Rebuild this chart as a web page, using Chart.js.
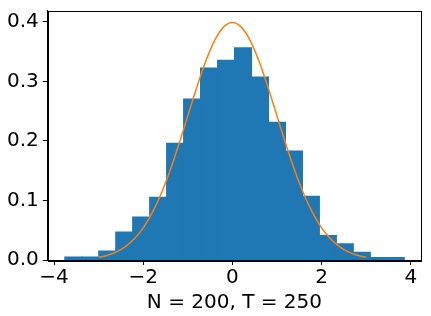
<!DOCTYPE html>
<html>
<head>
<meta charset="utf-8">
<script src="https://cdn.jsdelivr.net/npm/chart.js@4/dist/chart.umd.min.js"></script>
<style>
  html, body { margin: 0; padding: 0; background: #fff; }
  #wrap { width: 431px; height: 316px; }
</style>
</head>
<body>
<div id="wrap"><canvas id="hist"></canvas></div>
<script>
// histogram bins (centres) and densities
const binCenters = [-3.567, -3.186, -2.806, -2.425, -2.045, -1.664, -1.284, -0.903, -0.523, -0.142,
                    0.238, 0.619, 0.999, 1.380, 1.760, 2.141, 2.521, 2.902, 3.282, 3.663];
const density = [0.005, 0.005, 0.015, 0.047, 0.072, 0.105, 0.196, 0.270, 0.322, 0.335,
                 0.356, 0.307, 0.231, 0.183, 0.107, 0.041, 0.027, 0.013, 0.004, 0.004];

// normal curve points
const curveX = [-3.0, -2.8, -2.6, -2.4, -2.2, -2.0, -1.8, -1.6, -1.4, -1.2, -1.0, -0.8, -0.6, -0.4, -0.2, 0.0,
                0.2, 0.4, 0.6, 0.8, 1.0, 1.2, 1.4, 1.6, 1.8, 2.0, 2.2, 2.4, 2.6, 2.8, 3.0];
const curveY = [0.0044, 0.0079, 0.0136, 0.0224, 0.0355, 0.0540, 0.0790, 0.1109, 0.1497, 0.1942, 0.2420, 0.2897, 0.3332, 0.3683, 0.3910, 0.3989,
                0.3910, 0.3683, 0.3332, 0.2897, 0.2420, 0.1942, 0.1497, 0.1109, 0.0790, 0.0540, 0.0355, 0.0224, 0.0136, 0.0079, 0.0044];

const xTicks = [-4, -2, 0, 2, 4];
const yTicks = [0.0, 0.1, 0.2, 0.3, 0.4];
const xLabel = 'N = 200, T = 250';

const font = { family: '"DejaVu Sans", sans-serif', size: 20 };

// matplotlib style box around the plot
const frame = {
    id: 'frame',
    afterDatasetsDraw(chart) {
        const { ctx, chartArea: a } = chart;
        ctx.save();
        ctx.strokeStyle = '#000';
        ctx.lineWidth = 1;
        ctx.strokeRect(Math.round(a.left) + 0.5, Math.round(a.top) + 0.5,
                       Math.round(a.right - a.left), Math.round(a.bottom - a.top));
        ctx.restore();
    }
};

new Chart(document.getElementById('hist'), {
    data: {
        datasets: [
            {
                type: 'line',
                data: curveX.map((x, i) => ({ x: x, y: curveY[i] })),
                borderColor: '#ff7f0e',
                borderWidth: 1.5,
                pointRadius: 0,
                cubicInterpolationMode: 'monotone',
                fill: false
            },
            {
                type: 'bar',
                data: binCenters.map((x, i) => ({ x: x, y: density[i] })),
                backgroundColor: '#1f77b4',
                borderWidth: 0,
                inflateAmount: 0.6,
                barPercentage: 1.0,
                categoryPercentage: 1.0
            }
        ]
    },
    options: {
        responsive: true,
        maintainAspectRatio: false,
        animation: false,
        layout: { padding: { top: 0, right: 10, left: 3, bottom: 1 } },
        plugins: { legend: { display: false }, tooltip: { enabled: false } },
        scales: {
            x: {
                type: 'linear',
                offset: false,
                min: -4.14,
                max: 4.23,
                afterBuildTicks: (axis) => { axis.ticks = xTicks.map(v => ({ value: v })); },
                ticks: {
                    font: font, color: '#000', padding: 1,
                    callback: (v) => String(v).replace('-', '\u2212')
                },
                grid: { offset: false, drawOnChartArea: false, drawTicks: true, tickLength: 5, color: '#000' },
                border: { display: true, color: '#000' },
                title: { display: true, text: xLabel, font: font, color: '#000', padding: { top: 0, bottom: 0 } }
            },
            y: {
                min: 0,
                max: 0.4189,
                afterBuildTicks: (axis) => { axis.ticks = yTicks.map(v => ({ value: v })); },
                ticks: {
                    font: { family: font.family, size: 20, lineHeight: 0.65 },
                    color: '#000', padding: 4, callback: (v) => v.toFixed(1)
                },
                grid: { drawOnChartArea: false, drawTicks: true, tickLength: 5, color: '#000' },
                border: { display: true, color: '#000' }
            }
        }
    },
    plugins: [frame]
});
</script>
</body>
</html>
